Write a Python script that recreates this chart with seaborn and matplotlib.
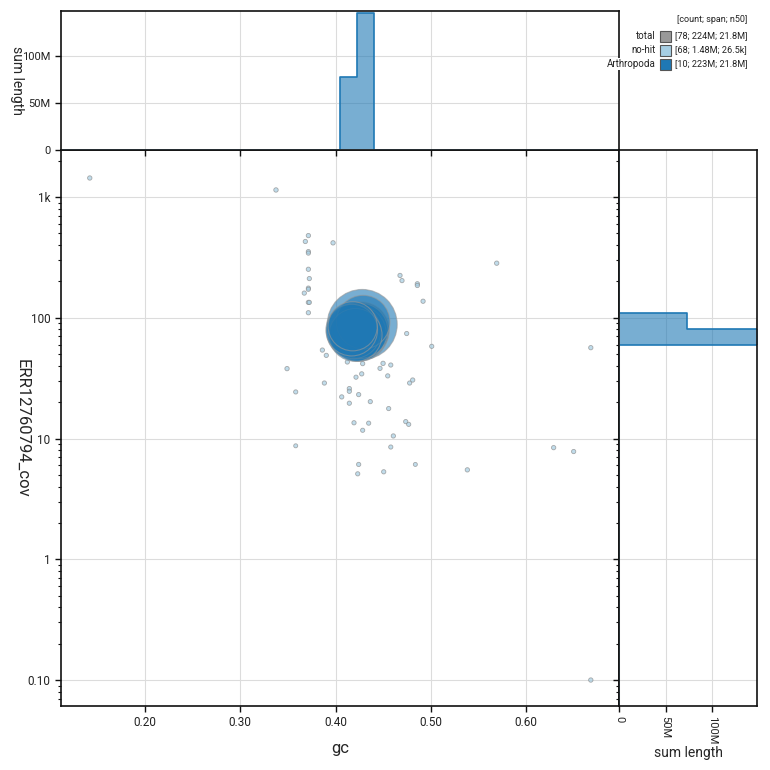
import numpy as np
import pandas as pd
import matplotlib
matplotlib.use("Agg")
import matplotlib.pyplot as plt
import seaborn as sns
from matplotlib.ticker import FixedLocator, FixedFormatter, LogLocator, NullFormatter, FuncFormatter
from matplotlib.patches import Rectangle

# ---------------- data ----------------
categories = ["no-hit", "Arthropoda"]
cat_colors = {"no-hit": "#a6cee3", "Arthropoda": "#1f78b4"}
total_color = "#999999"

arth_gc = [0.428, 0.425, 0.427, 0.424, 0.426, 0.419, 0.429, 0.421, 0.417, 0.418]
arth_cov = [88, 76, 79, 74, 78, 77, 92, 72, 79, 85]
arth_len = [35.0e6, 24.0e6, 22.5e6, 22.0e6, 21.8e6, 21.0e6, 20.5e6, 20.0e6, 19.0e6, 17.2e6]

nohit_gc = [0.142, 0.3375, 0.3715, 0.3683, 0.3974, 0.3715, 0.3715, 0.3715, 0.3725, 0.3715,
            0.3715, 0.3672, 0.3715, 0.3725, 0.3715, 0.4677, 0.4698, 0.4859, 0.4859, 0.4919,
            0.5692, 0.4747, 0.5010, 0.3862, 0.3903, 0.3491, 0.4124, 0.4285, 0.4499, 0.4580,
            0.4467, 0.4275, 0.4215, 0.4548, 0.3883, 0.4778, 0.4810, 0.3582, 0.4145, 0.4145,
            0.4243, 0.4065, 0.4365, 0.4145, 0.4558, 0.4194, 0.4348, 0.4285, 0.4737, 0.4768,
            0.4607, 0.4580, 0.3582, 0.4243, 0.4233, 0.4506, 0.4838, 0.5384, 0.629, 0.650,
            0.668, 0.668, 0.415, 0.430, 0.438, 0.420, 0.433, 0.412]
nohit_cov = [1436, 1143, 479, 428, 417, 353, 343, 252, 211, 176,
             172, 160, 134, 134, 110, 224, 203, 191, 185, 137,
             283, 74, 58, 54, 48.8, 37.9, 43, 41.7, 41.9, 40.6,
             38.1, 34.3, 32.2, 33, 28.8, 28.8, 30.5, 24.3, 25.9, 24.6,
             23.1, 22.1, 20.2, 19.6, 17.7, 13.5, 13.4, 11.7, 13.8, 13.1,
             10.5, 8.5, 8.7, 6.1, 5.1, 5.3, 6.1, 5.5, 8.4, 7.8,
             56.5, 0.10, 95, 72, 100, 66, 86, 80]
nohit_len = [26500, 31000, 24000, 22000, 28000, 21000, 19000, 23000, 20000, 18000,
             17000, 22000, 25000, 21000, 24000, 23000, 20000, 26000, 24000, 22000,
             27000, 19000, 18000, 23000, 21000, 26000, 20000, 22000, 28000, 19000,
             21000, 23000, 18000, 20000, 22000, 19000, 24000, 17000, 23000, 21000,
             20000, 22000, 19000, 20000, 18000, 21000, 17000, 16000, 20000, 18000,
             22000, 17000, 6000, 19000, 18000, 21000, 5500, 26000, 23000, 20000,
             24000, 27000, 32000, 35000, 30000, 29000, 33000, 31000]

legend_labels = ["total", "no-hit", "Arthropoda"]
legend_values = ["[78; 224M; 21.8M]", "[68; 1.48M; 26.5k]", "[10; 223M; 21.8M]"]

x_ticks = [0.20, 0.30, 0.40, 0.50, 0.60]
y_ticks = [0.1, 1, 10, 100, 1000]
y_ticklabels = ["0.10", "1", "10", "100", "1k"]
len_ticks = [0, 50e6, 100e6]
len_ticklabels = ["0", "50M", "100M"]

# ---------------- frames ----------------
df_a = pd.DataFrame({"gc": arth_gc, "cov": arth_cov, "length": arth_len, "cat": "Arthropoda"})
df_a = df_a.sort_values("length", ascending=False)
df_n = pd.DataFrame({"gc": nohit_gc, "cov": nohit_cov, "length": nohit_len, "cat": "no-hit"})
df = pd.concat([df_n, df_a], ignore_index=True)

sns.set_theme(style="ticks")
plt.rcParams["font.family"] = ["Roboto", "DejaVu Sans"]

fig = plt.figure(figsize=(7.7, 7.7), dpi=100)
W = H = 770.0
def fa(l, t, r, b):
    return [l / W, 1 - b / H, (r - l) / W, (b - t) / H]

ax = fig.add_axes(fa(61, 150, 619, 706))
axt = fig.add_axes(fa(61, 11, 619, 150), sharex=ax)
axr = fig.add_axes(fa(619, 150, 757, 706), sharey=ax)

ax.set_yscale("log")

xlim = (0.1118, 0.6976)
ylim = (10 ** -1.215, 10 ** 3.389)
lenmax = 148e6

# scatter
size_kw = dict(size="length", sizes=(8, 2540), size_norm=(0, 35e6), legend=False)
sns.scatterplot(data=df_n, x="gc", y="cov", color=cat_colors["no-hit"], alpha=0.7,
                edgecolor="#8a8a8a", linewidth=0.6, ax=ax, **size_kw)
sns.scatterplot(data=df_a, x="gc", y="cov", color=cat_colors["Arthropoda"], alpha=0.6,
                edgecolor="#999999", linewidth=0.8, ax=ax, **size_kw)

# histograms
gc_bw = 0.0175
gc_range = (0.405 - gc_bw * 17, 0.405 + gc_bw * 17)
cov_bw = 0.136
cov_range = (1.771 - cov_bw * 22, 1.771 + cov_bw * 13)
pal = [cat_colors[c] for c in categories]

common = dict(weights="length", hue="cat", hue_order=categories, palette=pal,
              element="step", legend=False)
sns.histplot(data=df, x="gc", binwidth=gc_bw, binrange=gc_range, fill=True, alpha=0.6,
             linewidth=0, ax=axt, **common)
sns.histplot(data=df, x="gc", binwidth=gc_bw, binrange=gc_range, fill=False, linewidth=1.2,
             ax=axt, **common)
sns.histplot(data=df, y="cov", binwidth=cov_bw, binrange=cov_range, log_scale=(False, True),
             fill=True, alpha=0.6, linewidth=0, ax=axr, **common)
sns.histplot(data=df, y="cov", binwidth=cov_bw, binrange=cov_range, log_scale=(False, True),
             fill=False, linewidth=1.2, ax=axr, **common)

# ---------------- axes styling ----------------
grid_kw = dict(color="#dcdcdc", linewidth=0.8)
for a in (ax, axt, axr):
    a.grid(True, which="major", **grid_kw)
    a.set_axisbelow(True)
    for s in a.spines.values():
        s.set_visible(True)
        s.set_color("#111111")
        s.set_linewidth(1.2)
    a.tick_params(which="major", direction="out", length=4, width=1, color="#111111",
                  labelsize=8, labelcolor="#222222")
    a.tick_params(which="minor", direction="out", length=2.5, width=0.8, color="#111111")

ax.set_xlim(*xlim)
ax.set_ylim(*ylim)
ax.xaxis.set_major_locator(FixedLocator(x_ticks))
ax.xaxis.set_major_formatter(FuncFormatter(lambda v, p: f"{v:.2f}"))
ax.yaxis.set_major_locator(FixedLocator(y_ticks))
ax.yaxis.set_major_formatter(FixedFormatter(y_ticklabels))
ax.yaxis.set_minor_locator(LogLocator(base=10, subs=np.arange(2, 10)))
ax.yaxis.set_minor_formatter(NullFormatter())
ax.set_xlabel("gc", fontsize=12, labelpad=8)
ax.set_ylabel("ERR12760794_cov", fontsize=12, rotation=-90, ha="center", va="center")
ax.yaxis.set_label_coords((22 - 61) / 558, 0.5)
ax.tick_params(axis="both", labelsize=8.5)

axt.set_ylim(0, lenmax)
axt.yaxis.set_major_locator(FixedLocator(len_ticks))
axt.yaxis.set_major_formatter(FixedFormatter(len_ticklabels))
axt.tick_params(axis="x", labelbottom=False)
axt.set_xlabel("")
axt.set_ylabel("sum length", fontsize=10, rotation=-90, ha="center", va="center")
axt.yaxis.set_label_coords((17 - 61) / 558, 0.5)

axr.set_xlim(0, lenmax)
axr.xaxis.set_major_locator(FixedLocator(len_ticks))
axr.xaxis.set_major_formatter(FixedFormatter(len_ticklabels))
axr.tick_params(axis="x", labelrotation=-90)
axr.tick_params(axis="y", which="both", labelleft=False)
axr.set_ylabel("")
axr.set_xlabel("sum length", fontsize=10, labelpad=1)
ax.set_ylim(*ylim)
ax.set_xlim(*xlim)

# ---------------- legend ----------------
fig.text(747 / W, 1 - 20 / H, "[count; span; n50]", ha="right", va="center", fontsize=6.5,
         color="#222222")
row_y = [36, 50, 64]
sq_colors = [total_color, cat_colors["no-hit"], cat_colors["Arthropoda"]]
for yy, lab, val, col in zip(row_y, legend_labels, legend_values, sq_colors):
    fig.text(656 / W, 1 - yy / H, lab, ha="right", va="center", fontsize=7, color="#222222",
             bbox=dict(facecolor="white", edgecolor="none", pad=1.0))
    fig.add_artist(Rectangle((660 / W, 1 - (yy + 5.5) / H), 11 / W, 11 / H,
                             transform=fig.transFigure, facecolor=col, edgecolor="#555555",
                             linewidth=0.8))
    fig.text(675 / W, 1 - yy / H, val, ha="left", va="center", fontsize=6.6, color="#222222")

fig.savefig("out.png", dpi=100)
